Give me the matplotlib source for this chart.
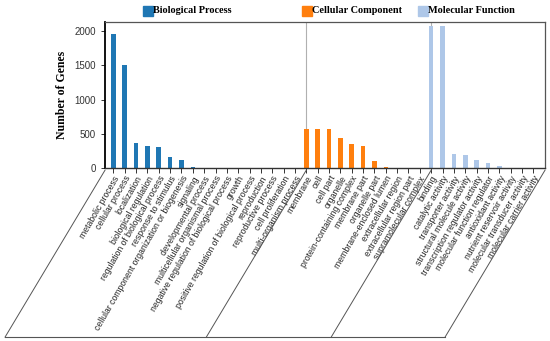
import matplotlib
matplotlib.use("Agg")
import matplotlib.pyplot as plt
from matplotlib.patches import Rectangle
from matplotlib.lines import Line2D

bp_terms = ["metabolic process", "cellular process", "localization", "biological regulation",
            "regulation of biological process", "response to stimulus",
            "cellular component organization or biogenesis", "signaling",
            "developmental process", "multicellular organismal process",
            "negative regulation of biological process", "growth",
            "positive regulation of biological process", "reproduction",
            "reproductive process", "cell proliferation", "multi-organism process"]
bp_counts = [1960, 1505, 362, 318, 305, 155, 122, 22, 4, 3, 2, 2, 2, 1, 1, 1, 1]

cc_terms = ["membrane", "cell", "cell part", "organelle", "protein-containing complex",
            "membrane part", "organelle part", "membrane-enclosed lumen",
            "extracellular region", "extracellular region part", "supramolecular complex"]
cc_counts = [570, 565, 565, 445, 350, 318, 108, 12, 2, 1, 1]

mf_terms = ["binding", "catalytic activity", "transporter activity",
            "structural molecule activity", "transcription regulator activity",
            "molecular function regulator", "antioxidant activity",
            "nutrient reservoir activity", "molecular transducer activity",
            "molecular carrier activity"]
mf_counts = [2075, 2075, 212, 185, 112, 78, 34, 3, 2, 2]

groups = ["Biological Process", "Cellular Component", "Molecular Function"]
colors = ["#1f77b4", "#ff7f0e", "#aec7e8"]

terms = bp_terms + cc_terms + mf_terms
counts = bp_counts + cc_counts + mf_counts
bar_colors = ([colors[0]] * len(bp_terms) + [colors[1]] * len(cc_terms)
              + [colors[2]] * len(mf_terms))
x = list(range(len(terms)))
starts = [len(bp_terms), len(bp_terms) + len(cc_terms)]

fig = plt.figure(figsize=(5.5, 3.41), dpi=100)
ax = fig.add_axes([0.191, 0.507, 0.8, 0.4285])

for s in starts:
    ax.axvline(s, color="#b0b0b0", lw=0.8, zorder=0)
ax.bar(x, counts, width=0.4, color=bar_colors, zorder=2)

ax.set_xlim(-0.73, len(terms) + 0.03)
ax.set_ylim(0, 2130)
ax.set_yticks([0, 500, 1000, 1500, 2000])
ax.set_xticks(x)
ax.set_xticklabels(terms, rotation=60, ha="right", va="top", rotation_mode="anchor",
                   fontsize=6.2, family="Liberation Sans", color="#222222")
ax.tick_params(axis="x", length=3.5, width=0.7, color="#333333", pad=1)
ax.tick_params(axis="y", length=3, width=0.7, color="#333333", labelsize=7, labelcolor="#333333")
for lab in ax.get_yticklabels():
    lab.set_family("Liberation Sans")

ax.spines["left"].set_color("black")
ax.spines["left"].set_linewidth(1.3)
ax.spines["bottom"].set_color("#333333")
ax.spines["bottom"].set_linewidth(1.0)
for side in ["top", "right"]:
    ax.spines[side].set_color("#555555")
    ax.spines[side].set_linewidth(0.9)

ax.set_ylabel("Number of Genes", family="Liberation Serif", fontweight="bold",
              fontsize=8.5, labelpad=5)

# slanted frame under the category labels
dx, dy = -100, -167
tops_data = [ax.get_xlim()[0]] + starts + [ax.get_xlim()[1]]
inv = fig.transFigure.inverted()
bottoms = []
for xv in tops_data:
    px, py = ax.transData.transform((xv, 0))
    top = inv.transform((px, py - 2))
    bot = inv.transform((px + dx, py - 2 + dy))
    bottoms.append(bot)
    fig.add_artist(Line2D([top[0], bot[0]], [top[1], bot[1]], color="#555555", lw=0.7))
fig.add_artist(Line2D([bottoms[0][0], bottoms[-1][0]], [bottoms[0][1], bottoms[-1][1]],
                      color="#555555", lw=0.8))

# legend on top
legend_x = [0.26, 0.549, 0.76]
for gx, name, c in zip(legend_x, groups, colors):
    fig.add_artist(Rectangle((gx, 0.953), 0.018, 0.029, transform=fig.transFigure,
                             color=c))
    fig.text(gx + 0.019, 0.968, name, family="Liberation Serif", fontweight="bold",
             fontsize=7.4, va="center", ha="left")

fig.savefig("out.png", dpi=100)
